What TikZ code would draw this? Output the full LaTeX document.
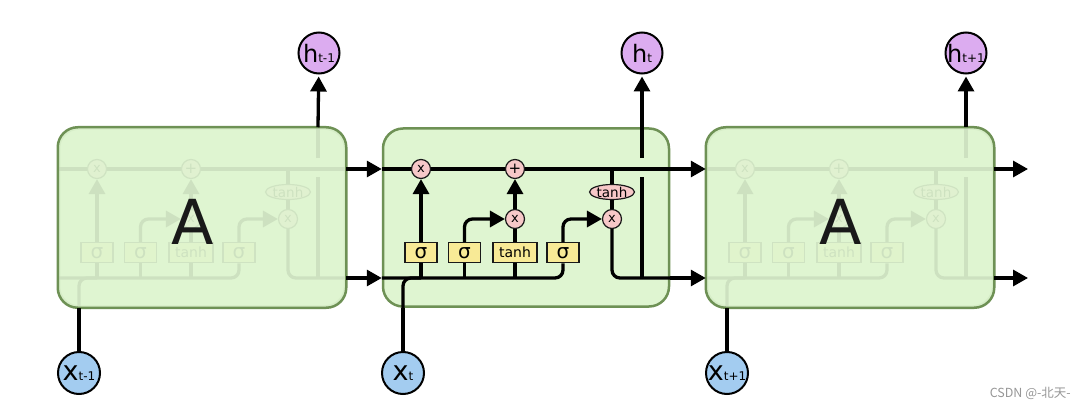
\documentclass[tikz,border=0pt]{standalone}
\usepackage{fontspec}
\setmainfont{DejaVu Sans}
\newfontfamily\cjkfont{Noto Sans CJK SC}
\usetikzlibrary{arrows.meta,shapes.geometric}
\definecolor{cellfill}{RGB}{223,245,209}
\definecolor{cellline}{RGB}{110,145,85}
\definecolor{xfill}{RGB}{163,204,240}
\definecolor{hfill}{RGB}{220,172,240}
\definecolor{opfill}{RGB}{247,200,200}
\definecolor{gatefill}{RGB}{248,234,150}
\definecolor{ink}{RGB}{25,25,25}
\definecolor{wmgray}{RGB}{150,150,150}
\newcommand\hlab[1]{{\fontsize{24}{24}\selectfont h}{\fontsize{12}{12}\selectfont #1}}
\newcommand\xlab[1]{{\fontsize{27}{27}\selectfont x}{\fontsize{12}{12}\selectfont #1}}
\tikzset{
  flow/.style={line width=3.3pt, draw=black},
  tip/.style={-{Triangle[length=15pt,width=16pt]}},
  cellbox/.style={rectangle, rounded corners=20pt, fill=cellfill, draw=cellline, line width=2.5pt, minimum width=286pt, minimum height=178pt, inner sep=0pt},
  op/.style={circle, fill=opfill, draw=ink, line width=1.2pt, minimum size=19pt, inner sep=0pt, font=\fontsize{13}{13}\selectfont},
  tanhop/.style={ellipse, fill=opfill, draw=ink, line width=1.2pt, minimum width=45pt, minimum height=15pt, inner sep=0pt, font=\fontsize{13.5}{13.5}\selectfont},
  gate/.style={rectangle, fill=gatefill, draw=ink, line width=1.2pt, minimum height=20pt, inner sep=0pt},
  sig/.style={gate, minimum width=32pt, font=\fontsize{20}{20}\selectfont},
  tgate/.style={gate, minimum width=44pt, font=\fontsize{14}{14}\selectfont},
  xin/.style={circle, fill=xfill, draw=black, line width=2pt, minimum size=42pt, inner sep=0pt},
  hout/.style={circle, fill=hfill, draw=black, line width=2pt, minimum size=41pt, inner sep=0pt},
}
\newcommand\lstmparts{%
  \node[cellbox] (box) at (526,217.5) {};
  \coordinate (yt) at (0,169);
  \coordinate (yb) at (0,278);
  \coordinate (tap) at (612,169);
  \coordinate (hx) at (642,278);
  \coordinate (hgapA) at (642,177);
  \coordinate (hgapB) at (642,158);
  \coordinate (xc) at (403,278);
  \node[op] (f) at (421,169) {x};
  \node[op, font=\fontsize{15}{15}\selectfont] (plus) at (515,169) {+};
  \node[op] (ix) at (515,219) {x};
  \node[op] (ox) at (612,219) {x};
  \node[tanhop] (tc) at (612,192) {tanh};
  \node[sig] (g1) at (421,252.7) {σ};
  \node[sig] (g2) at (464.5,252.7) {σ};
  \node[tgate] (g3) at (515,252.7) {tanh};
  \node[sig] (g4) at (563,252.7) {σ};
  \draw[flow] (box.west |- yt) -- (f) -- (plus) -- (box.east |- yt);
  \draw[flow] (tap) -- (tc);
  \draw[flow] (tc) -- (ox);
  \draw[flow, rounded corners=8pt] (ox) |- (box.east |- yb);
  \draw[flow] (hx) -- (hgapA);
  \draw[flow] (hgapB) -- (hx |- box.north);
  \draw[flow, rounded corners=8pt] (box.west |- yb) -| (g4);
  \draw[flow] (g1 |- yb) -- (g1);
  \draw[flow] (g2 |- yb) -- (g2);
  \draw[flow] (g3 |- yb) -- (g3);
  \draw[flow, tip] (g1) -- (f);
  \draw[flow, tip, rounded corners=8pt] (g2) |- (ix);
  \draw[flow] (g3) -- (ix);
  \draw[flow, tip] (ix) -- (plus);
  \draw[flow, tip, rounded corners=8pt] (g4) |- (ox);
  \draw[flow, rounded corners=8pt] (xc |- box.south) |- (g1 |- yb);
}
\tikzset{
  lstm/.pic={\lstmparts},
  lstmfaded/.pic={\lstmparts
    \fill[cellfill, opacity=0.92, rounded corners=20pt] (box.south west) rectangle (box.north east);
    \draw[cellline, line width=2.5pt, rounded corners=20pt] (box.south west) rectangle (box.north east);
    \node[font=\fontsize{62}{62}\selectfont, text=ink, inner sep=0pt] (A) at (517,222) {A};}
}
\begin{document}
\begin{tikzpicture}[x=1pt, y=-1pt]
\useasboundingbox (0,0) rectangle (1089,409);
\pic (L) at (-324,0) {lstmfaded};
\pic (M) at (0,0) {lstm};
\pic (R) at (324,0) {lstmfaded};
% state arrows between cells
\coordinate (outT) at (1028,169);
\coordinate (outB) at (1028,278);
\draw[flow, tip] (Lbox.east |- Lyt) -- (Mbox.west |- Myt);
\draw[flow, tip] (Lbox.east |- Lyb) -- (Mbox.west |- Myb);
\draw[flow, tip] (Mbox.east |- Myt) -- (Rbox.west |- Ryt);
\draw[flow, tip] (Mbox.east |- Myb) -- (Rbox.west |- Ryb);
\draw[flow, tip] (Rbox.east |- Ryt) -- (outT);
\draw[flow, tip] (Rbox.east |- Ryb) -- (outB);
% outputs
\node[hout] (hL) at (319,53) {\makebox[0pt]{\hlab{t-1}}};
\node[hout] (hM) at (642,53) {\makebox[0pt]{\hlab{t}}};
\node[hout] (hR) at (966,53) {\makebox[0pt]{\hlab{t+1}}};
\draw[flow, tip, shorten >=2pt] (Lhx |- Lbox.north) -- (hL);
\draw[flow, tip, shorten >=2pt] (Mhx |- Mbox.north) -- (hM);
\draw[flow, tip, shorten >=2pt] (Rhx |- Rbox.north) -- (hR);
% inputs
\node[xin] (xL) at (79,373) {\makebox[0pt]{\xlab{t-1}}};
\node[xin] (xM) at (403,373) {\makebox[0pt]{\xlab{t}}};
\node[xin] (xR) at (727,373) {\makebox[0pt]{\xlab{t+1}}};
\draw[flow] (xL) -- (Lxc |- Lbox.south);
\draw[flow] (xM) -- (Mxc |- Mbox.south);
\draw[flow] (xR) -- (Rxc |- Rbox.south);
\node[font=\cjkfont\fontsize{12.5}{12.5}\selectfont, text=wmgray, anchor=east, inner sep=0pt] (wm) at (1071,393) {CSDN @-北天-};
\end{tikzpicture}
\end{document}
